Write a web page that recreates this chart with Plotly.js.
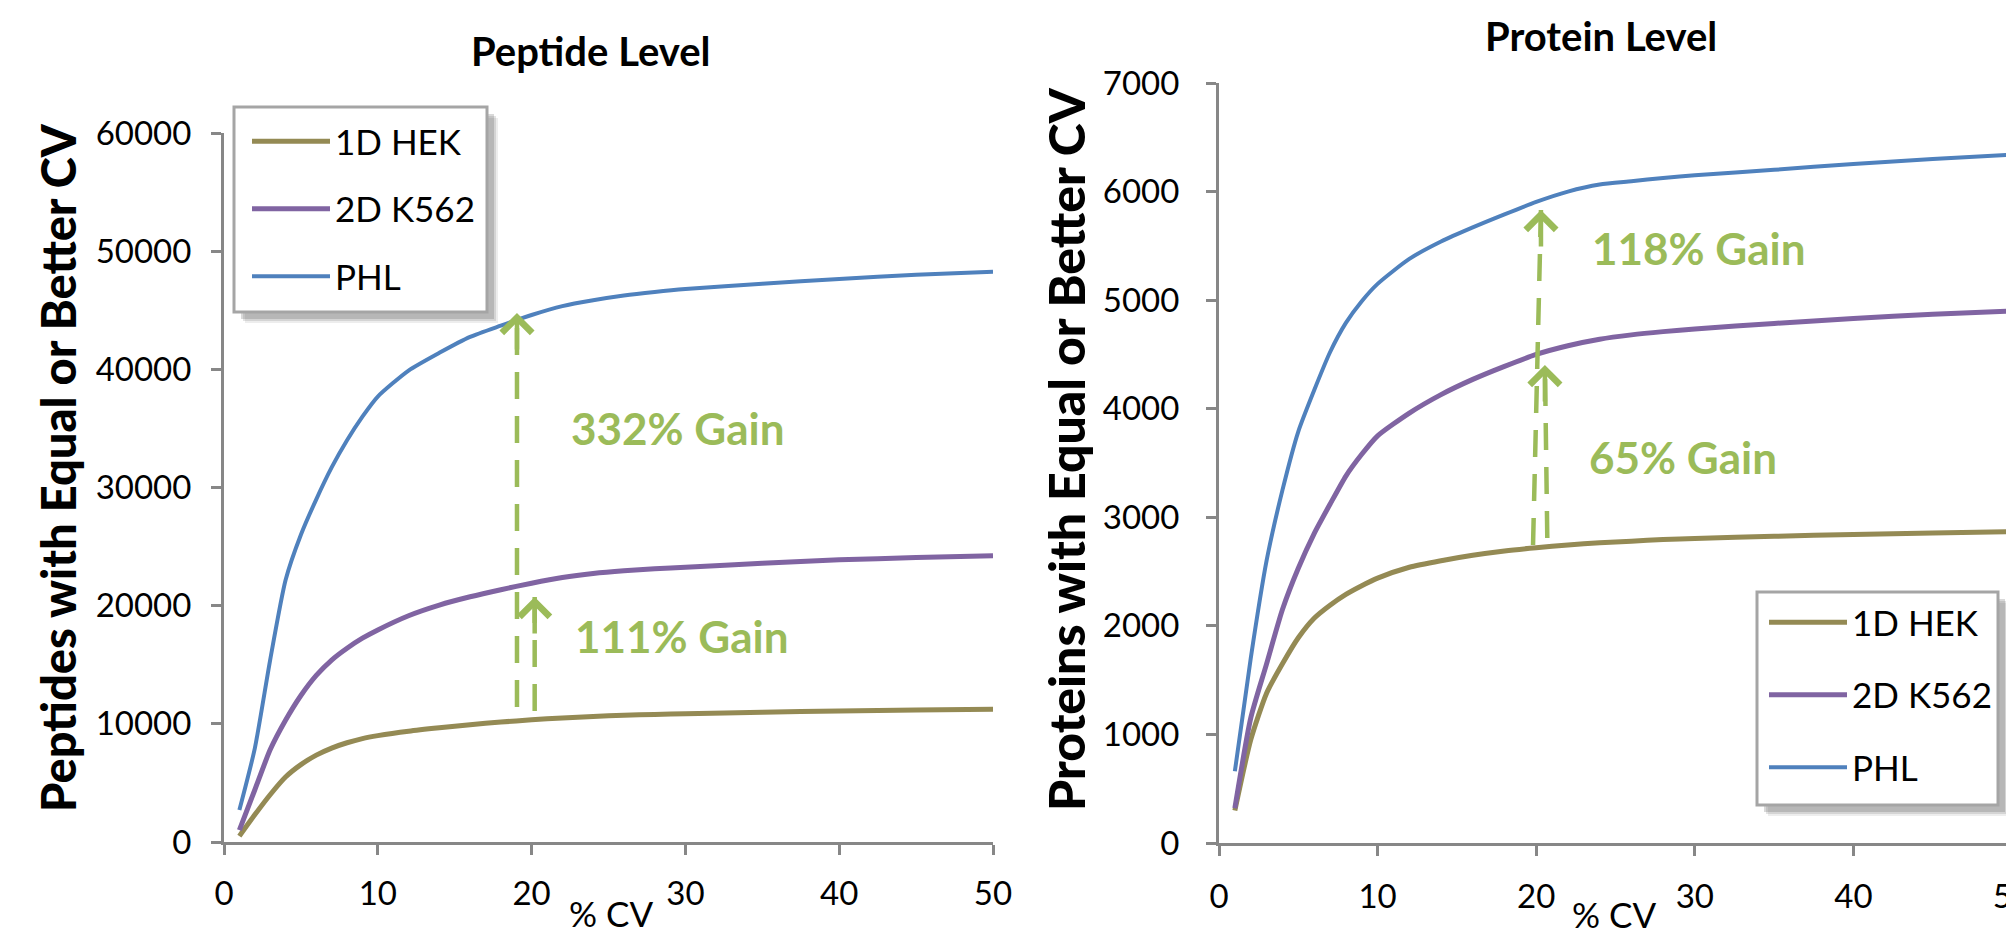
<!DOCTYPE html>
<html>
<head>
<meta charset="utf-8">
<script src="https://cdn.plot.ly/plotly-3.0.1.min.js"></script>
<style>
html, body { margin: 0; padding: 0; overflow: hidden; background: #fff; }
#chart { width: 2030px; height: 938px; }
</style>
</head>
<body>
<div id="chart"></div>
<script>
// ---- data ----
const cvValues = [1, 2, 3, 4, 5, 6, 7, 8, 9, 10, 12, 14, 16, 18, 20, 22, 24, 26, 28, 30, 35, 40, 45, 50];
const seriesNames = ['1D HEK', '2D K562', 'PHL'];

const peptideHEK  = [500, 2300, 4000, 5500, 6550, 7350, 7950, 8400, 8750, 9000, 9380, 9670, 9930, 10150, 10340, 10500, 10630, 10730, 10800, 10860, 10980, 11090, 11170, 11230];
const peptideK562 = [1000, 4400, 7800, 10300, 12400, 14100, 15400, 16400, 17250, 17950, 19150, 20050, 20750, 21350, 21900, 22380, 22720, 22950, 23120, 23260, 23580, 23880, 24070, 24220];
const peptidePHL  = [2700, 7900, 15400, 22150, 26000, 29000, 31700, 34000, 36000, 37700, 39900, 41400, 42750, 43700, 44600, 45350, 45850, 46250, 46550, 46800, 47250, 47650, 48000, 48250];

const proteinHEK  = [300, 950, 1380, 1650, 1890, 2070, 2190, 2290, 2370, 2440, 2540, 2600, 2650, 2690, 2720, 2745, 2765, 2780, 2795, 2805, 2825, 2842, 2855, 2867];
const proteinK562 = [320, 1150, 1650, 2150, 2530, 2850, 3120, 3380, 3580, 3750, 3960, 4130, 4270, 4390, 4500, 4580, 4640, 4680, 4710, 4735, 4785, 4830, 4870, 4900];
const proteinPHL  = [660, 1700, 2600, 3250, 3790, 4170, 4520, 4790, 4990, 5150, 5380, 5540, 5670, 5790, 5905, 6000, 6065, 6095, 6125, 6150, 6200, 6255, 6300, 6340];

const panelTitles = ['Peptide Level', 'Protein Level'];
const yTitles = ['Peptides with Equal or Better CV', 'Proteins with Equal or Better CV'];
const xTitle = '% CV';

// gain arrows: [x tail, y tail, x tip, y tip]
const peptideGainArrows = [[19.05, 11424, 19.05, 44766], [20.2, 11086, 20.2, 20733]];
const peptideGainLabels = ['332% Gain', '111% Gain'];
const peptideGainLabelPos = [[29.5, 35030], [29.8, 17430]];
const proteinGainArrows = [[19.8, 2745, 20.3, 5830], [20.7, 2809, 20.55, 4403]];
const proteinGainLabels = ['118% Gain', '65% Gain'];
const proteinGainLabelPos = [[30.26, 5480], [29.26, 3555]];

// ---- styling ----
const colors = ['#948A54', '#8064A2', '#4F81BD'];
const widths = [5, 5, 4];
const gainColor = '#9BBB59';
const axisGrey = '#878787';
const W = 2030, H = 938;
const px = v => v / W;
const py = v => 1 - v / H;
const FONT = 'Lato, "Open Sans", sans-serif';

const peptideSeries = [peptideHEK, peptideK562, peptidePHL];
const proteinSeries = [proteinHEK, proteinK562, proteinPHL];

const traces = [];
peptideSeries.forEach((ys, i) => traces.push({
  type: 'scatter', mode: 'lines', x: cvValues, y: ys, name: seriesNames[i],
  xaxis: 'x', yaxis: 'y', legend: 'legend', legendgroup: 'a' + i,
  line: {color: colors[i], width: widths[i], shape: 'spline', smoothing: 0.6}
}));
proteinSeries.forEach((ys, i) => traces.push({
  type: 'scatter', mode: 'lines', x: cvValues, y: ys, name: seriesNames[i],
  xaxis: 'x2', yaxis: 'y2', legend: 'legend2', legendgroup: 'b' + i,
  line: {color: colors[i], width: widths[i], shape: 'spline', smoothing: 0.6}
}));

function axisStyle(extra) {
  return Object.assign({
    showline: true, linecolor: axisGrey, linewidth: 3,
    ticks: 'outside', ticklen: 10, tickwidth: 3, tickcolor: axisGrey,
    showgrid: false, zeroline: false,
    tickfont: {family: FONT, size: 33, color: '#000'},
    ticklabeloverflow: 'allow',
    fixedrange: true
  }, extra);
}

const shapes = [];
const annotations = [];

// legend frames with soft shadow (drawn as shapes, legend entries by Plotly)
function legendFrame(x0, y0, x1, y1) {
  [[11, 0.10], [9, 0.16], [7, 0.22]].forEach(s => shapes.push({type: 'rect', xref: 'paper', yref: 'paper',
    x0: px(x0 + s[0]), x1: px(x1 + s[0]), y0: py(y0 + s[0]), y1: py(y1 + s[0]),
    fillcolor: 'rgba(80,80,80,' + s[1] + ')', line: {width: 0}, layer: 'above'}));
  shapes.push({type: 'rect', xref: 'paper', yref: 'paper', x0: px(x0), x1: px(x1), y0: py(y0), y1: py(y1),
    fillcolor: '#fff', line: {color: '#A5A5A5', width: 3}, layer: 'above'});
}
legendFrame(234, 107, 487, 312);
legendFrame(1757, 592, 1998, 805);

function addArrows(arr, xr, yr) {
  arr.forEach(a => {
    shapes.push({type: 'line', xref: xr, yref: yr, x0: a[0], y0: a[1], x1: a[2], y1: a[3],
      line: {color: gainColor, width: 4.5, dash: '27px,17px'}});
    annotations.push({xref: xr, yref: yr, x: a[2], y: a[3], text: '', showarrow: true,
      ax: 0, ay: 38, arrowhead: 4, arrowsize: 1.3, arrowwidth: 4.5, arrowcolor: gainColor});
  });
}
addArrows(peptideGainArrows, 'x', 'y');
addArrows(proteinGainArrows, 'x2', 'y2');

function addLabels(labels, pos, xr, yr) {
  labels.forEach((t, i) => annotations.push({xref: xr, yref: yr, x: pos[i][0], y: pos[i][1],
    text: t, showarrow: false, xanchor: 'center', yanchor: 'middle',
    font: {family: FONT, size: 44, color: gainColor, weight: 700}}));
}
addLabels(peptideGainLabels, peptideGainLabelPos, 'x', 'y');
addLabels(proteinGainLabels, proteinGainLabelPos, 'x2', 'y2');

// panel titles
annotations.push({xref: 'paper', yref: 'paper', x: px(591), y: py(51), text: panelTitles[0],
  showarrow: false, xanchor: 'center', yanchor: 'middle', font: {family: FONT, size: 40, color: '#000', weight: 700}});
annotations.push({xref: 'paper', yref: 'paper', x: px(1601), y: py(36), text: panelTitles[1],
  showarrow: false, xanchor: 'center', yanchor: 'middle', font: {family: FONT, size: 40, color: '#000', weight: 700}});
// y titles
annotations.push({xref: 'paper', yref: 'paper', x: px(58), y: py(468), text: yTitles[0],
  showarrow: false, textangle: -90, xanchor: 'center', yanchor: 'middle', font: {family: FONT, size: 47, color: '#000', weight: 900}});
annotations.push({xref: 'paper', yref: 'paper', x: px(1066), y: py(449), text: yTitles[1],
  showarrow: false, textangle: -90, xanchor: 'center', yanchor: 'middle', font: {family: FONT, size: 50, color: '#000', weight: 900}});
// x titles
annotations.push({xref: 'paper', yref: 'paper', x: px(611), y: py(913), text: xTitle,
  showarrow: false, xanchor: 'center', yanchor: 'middle', font: {family: FONT, size: 35, color: '#000'}});
annotations.push({xref: 'paper', yref: 'paper', x: px(1614), y: py(914), text: xTitle,
  showarrow: false, xanchor: 'center', yanchor: 'middle', font: {family: FONT, size: 35, color: '#000'}});

const legendStyle = {
  xanchor: 'left', yanchor: 'top', bgcolor: 'rgba(0,0,0,0)', borderwidth: 0,
  font: {family: FONT, size: 35, color: '#000'}, itemwidth: 78, traceorder: 'grouped'
};

const layout = {
  width: W, height: H,
  margin: {l: 0, r: 0, t: 0, b: 0},
  paper_bgcolor: '#fff', plot_bgcolor: '#fff',
  showlegend: true,
  xaxis: axisStyle({domain: [px(224), px(993)], range: [0, 50], dtick: 10, anchor: 'y', ticklabelstandoff: 10}),
  yaxis: axisStyle({domain: [py(842), py(133)], range: [0, 60000], dtick: 10000, tickformat: 'd', anchor: 'x', ticklabelstandoff: 13}),
  xaxis2: axisStyle({domain: [px(1219), px(2012)], range: [0, 50], dtick: 10, anchor: 'y2', ticklabelstandoff: 12}),
  yaxis2: axisStyle({domain: [py(843), py(83)], range: [0, 7000], dtick: 1000, tickformat: 'd', anchor: 'x2', ticklabelstandoff: 20}),
  legend: Object.assign({x: px(247), y: py(112), tracegroupgap: 19}, legendStyle),
  legend2: Object.assign({x: px(1764), y: py(593), tracegroupgap: 24}, legendStyle),
  shapes: shapes,
  annotations: annotations
};

Plotly.newPlot('chart', traces, layout, {displayModeBar: false, staticPlot: true});
</script>
</body>
</html>
